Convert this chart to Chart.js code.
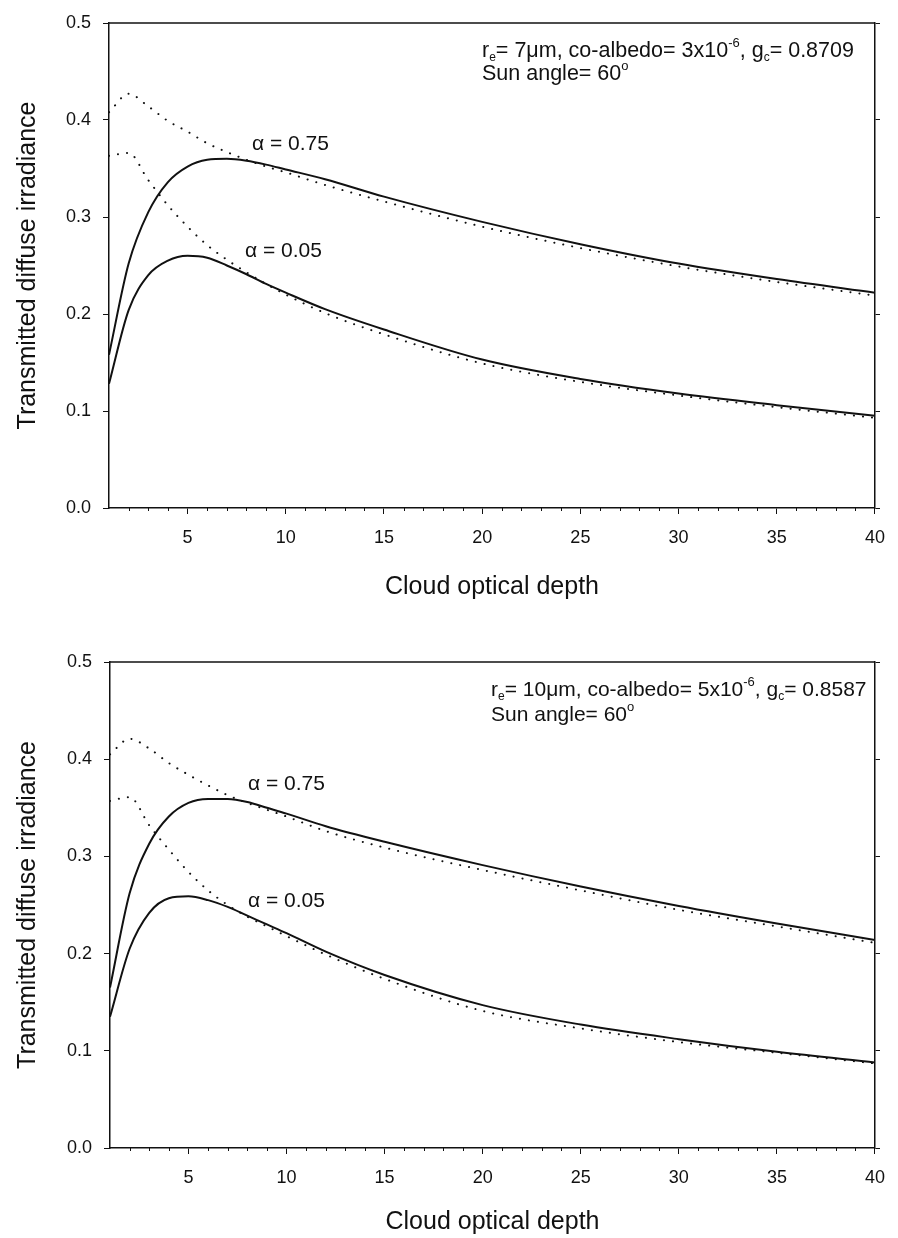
<!DOCTYPE html>
<html>
<head>
<meta charset="utf-8">
<script src="https://cdn.jsdelivr.net/npm/chart.js@4.4.0/dist/chart.umd.min.js"></script>
<style>
  html, body { margin: 0; padding: 0; background: #fff; }
  #wrap { position: relative; width: 898px; height: 1238px; overflow: hidden; font-family: "Liberation Sans", Arial, sans-serif; color: #111; }
  .cv { position: absolute; left: 0; }
  .note { position: absolute; font-size: 21.5px; line-height: 24px; white-space: nowrap; }
  .note.b { font-size: 21px; }
  .alpha { position: absolute; font-size: 21px; line-height: 24px; white-space: nowrap; }
  sub { font-size: 12px; vertical-align: -4px; }
  sup { font-size: 13px; vertical-align: 10px; }
</style>
</head>
<body>
<div id="wrap">
  <canvas id="c1" class="cv" style="top:0px" width="898" height="620"></canvas>
  <canvas id="c2" class="cv" style="top:620px" width="898" height="618"></canvas>

  <div class="note" style="left:482px; top:31px;">r<sub>e</sub>= 7μm, co-albedo= 3x10<sup>-6</sup>, g<sub>c</sub>= 0.8709</div>
  <div class="note" style="left:482px; top:54px;">Sun angle= 60<sup>o</sup></div>
  <div class="alpha" style="left:252px; top:131px;">α = 0.75</div>
  <div class="alpha" style="left:245px; top:238px;">α = 0.05</div>

  <div class="note b" style="left:491px; top:670px;">r<sub>e</sub>= 10μm, co-albedo= 5x10<sup>-6</sup>, g<sub>c</sub>= 0.8587</div>
  <div class="note b" style="left:491px; top:695px;">Sun angle= 60<sup>o</sup></div>
  <div class="alpha" style="left:248px; top:771px;">α = 0.75</div>
  <div class="alpha" style="left:248px; top:888px;">α = 0.05</div>
</div>
<script>
// ---------- data ----------
const tau = [1, 2, 3, 4, 5, 6, 7, 8, 9, 10, 12, 15, 20, 25, 30, 35, 40];
const xTickValues = [5, 10, 15, 20, 25, 30, 35, 40];
const yTickValues = [0.0, 0.1, 0.2, 0.3, 0.4, 0.5];

// upper panel (r_e = 7 um)
const top_a075_solid  = [0.158, 0.252, 0.305, 0.336, 0.352, 0.359, 0.360, 0.358, 0.354, 0.349, 0.339, 0.321, 0.295, 0.272, 0.252, 0.236, 0.222];
const top_a075_dotted = [0.408, 0.427, 0.414, 0.399, 0.388, 0.376, 0.367, 0.359, 0.352, 0.346, 0.333, 0.316, 0.290, 0.268, 0.249, 0.233, 0.219];
const top_a005_solid  = [0.128, 0.204, 0.240, 0.255, 0.260, 0.258, 0.250, 0.241, 0.231, 0.222, 0.205, 0.184, 0.153, 0.133, 0.118, 0.106, 0.095];
const top_a005_dotted = [0.363, 0.366, 0.338, 0.312, 0.290, 0.271, 0.256, 0.243, 0.231, 0.220, 0.201, 0.179, 0.149, 0.130, 0.116, 0.104, 0.093];

// lower panel (r_e = 10 um)
const bot_a075_solid  = [0.165, 0.262, 0.313, 0.341, 0.355, 0.359, 0.359, 0.356, 0.350, 0.344, 0.331, 0.315, 0.291, 0.269, 0.249, 0.231, 0.214];
const bot_a075_dotted = [0.405, 0.421, 0.411, 0.396, 0.384, 0.373, 0.363, 0.355, 0.348, 0.341, 0.326, 0.309, 0.286, 0.265, 0.245, 0.228, 0.211];
const bot_a005_solid  = [0.135, 0.205, 0.242, 0.257, 0.259, 0.255, 0.248, 0.239, 0.230, 0.221, 0.202, 0.178, 0.147, 0.127, 0.112, 0.099, 0.088];
const bot_a005_dotted = [0.357, 0.361, 0.332, 0.307, 0.284, 0.265, 0.250, 0.238, 0.228, 0.218, 0.199, 0.174, 0.141, 0.123, 0.109, 0.098, 0.087];

const xTitle = 'Cloud optical depth';
const yTitle = 'Transmitted diffuse irradiance';

// ---------- chart builder ----------
const INK = '#111';
const FONT = '"Liberation Sans", Arial, sans-serif';

function pts(ys) { return tau.map((t, i) => ({ x: t, y: ys[i] })); }

const framePlugin = {
  id: 'frame',
  afterDraw(chart) {
    const { ctx, chartArea: a, scales } = chart;
    ctx.save();
    ctx.strokeStyle = INK;
    ctx.lineWidth = 1.5;
    ctx.beginPath();
    ctx.moveTo(a.left, a.top);
    ctx.lineTo(a.right, a.top);
    ctx.stroke();
    // minor ticks on x axis
    const xs = scales.x;
    ctx.lineWidth = 1;
    ctx.beginPath();
    for (let v = 2; v < 40; v++) {
      if (v % 5 === 0) continue;
      const px = Math.round(xs.getPixelForValue(v)) + 0.5;
      ctx.moveTo(px, a.bottom);
      ctx.lineTo(px, a.bottom + 3);
    }
    ctx.stroke();
    ctx.restore();
  }
};

function makeChart(id, g, s075, d075, s005, d005) {
  const solid = { borderColor: INK, borderWidth: 2, pointRadius: 0, cubicInterpolationMode: 'monotone', fill: false };
  const dotted = { borderColor: INK, borderWidth: 2, pointRadius: 0, cubicInterpolationMode: 'monotone', fill: false,
                   borderDash: [0.1, 9], borderCapStyle: 'round' };
  new Chart(document.getElementById(id), {
    type: 'line',
    data: {
      datasets: [
        Object.assign({ label: 'α = 0.75', data: pts(s075) }, solid),
        Object.assign({ label: 'α = 0.75 (approx.)', data: pts(d075) }, dotted),
        Object.assign({ label: 'α = 0.05', data: pts(s005) }, solid),
        Object.assign({ label: 'α = 0.05 (approx.)', data: pts(d005) }, dotted)
      ]
    },
    options: {
      responsive: false,
      animation: false,
      devicePixelRatio: 1,
      layout: { padding: { top: g.top, right: 0, bottom: 0, left: 0 } },
      plugins: { legend: { display: false }, tooltip: { enabled: false } },
      scales: {
        x: {
          type: 'linear', position: 'bottom', min: 1, max: 40,
          afterBuildTicks: s => { s.ticks = xTickValues.map(v => ({ value: v })); },
          afterFit: s => { s.height = g.H - g.bottom; },
          ticks: { autoSkip: false, maxRotation: 0, color: INK, padding: 13, font: { family: FONT, size: 18 } },
          grid: { display: true, drawOnChartArea: false, drawTicks: true, tickLength: 6, color: INK, tickWidth: 1 },
          border: { display: true, color: INK, width: 1.5 },
          title: { display: true, text: xTitle, color: INK, font: { family: FONT, size: 25 }, padding: { top: 24, bottom: g.xtPad } }
        },
        y: {
          type: 'linear', position: 'left', min: 0, max: 0.5,
          afterBuildTicks: s => { s.ticks = yTickValues.map(v => ({ value: v })); },
          afterFit: s => { s.width = g.left; },
          ticks: { color: INK, padding: 12, font: { family: FONT, size: 18 }, callback: v => Number(v).toFixed(1) },
          grid: { display: true, drawOnChartArea: false, drawTicks: true, tickLength: 6, color: INK, tickWidth: 1 },
          border: { display: true, color: INK, width: 1.5 },
          title: { display: true, text: yTitle, color: INK, font: { family: FONT, size: 25 }, padding: { top: 13, bottom: 8 } }
        },
        y2: {
          type: 'linear', position: 'right', min: 0, max: 0.5,
          afterBuildTicks: s => { s.ticks = yTickValues.map(v => ({ value: v })); },
          afterFit: s => { s.width = g.W - g.right; },
          ticks: { display: false },
          grid: { display: true, drawOnChartArea: false, drawTicks: true, tickLength: 5, color: INK, tickWidth: 1 },
          border: { display: true, color: INK, width: 1.5 }
        }
      }
    },
    plugins: [framePlugin]
  });
}

makeChart('c1', { W: 898, H: 620, left: 109, right: 883, top: 23, bottom: 508, xtPad: 18 },
  top_a075_solid, top_a075_dotted, top_a005_solid, top_a005_dotted);
makeChart('c2', { W: 898, H: 618, left: 110, right: 888, top: 42, bottom: 528, xtPad: 1 },
  bot_a075_solid, bot_a075_dotted, bot_a005_solid, bot_a005_dotted);
</script>
</body>
</html>
